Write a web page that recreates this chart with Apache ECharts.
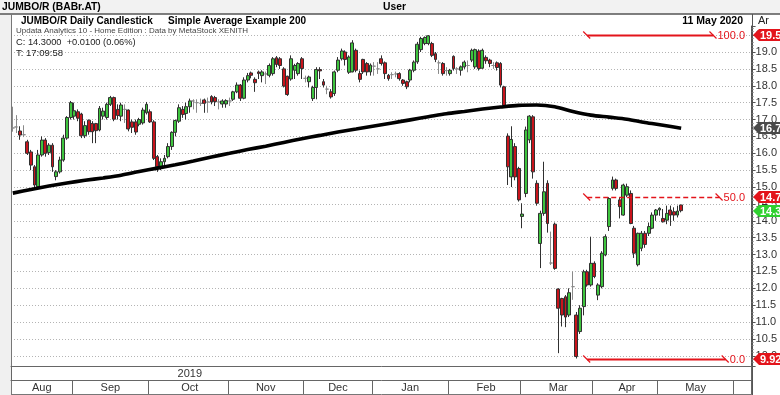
<!DOCTYPE html>
<html><head><meta charset="utf-8">
<script src="https://cdn.jsdelivr.net/npm/echarts@6/dist/echarts.min.js"></script>
<style>html,body{margin:0;padding:0;background:#fff}#c{width:780px;height:395px}</style>
</head><body><div id="c"></div>
<script>
// ---------- data ----------
const firstDay = [2019, 7, 7];     // 7 Aug 2019
const lastAxisDay = [2020, 5, 5];  // 5 Jun 2020 (axis runs past data)
const holidays = ['2019-08-15','2019-10-28','2019-12-24','2019-12-25','2019-12-26','2020-01-01','2020-01-06',
  '2020-03-02','2020-03-25','2020-04-10','2020-04-13','2020-04-17','2020-04-20'];
const monthNames = ['Jan','Feb','Mar','Apr','May','Jun','Jul','Aug','Sep','Oct','Nov','Dec'];
const yearLabels = ['2019'];

const opens = [16.75,16.78,16.66,16.55,16.34,16.04,15.6,15.01,15.95,16.39,
16.02,16.24,15.31,15.45,15.8,16.45,17.06,17.1,17.23,17.16,
16.52,16.98,16.88,16.88,16.69,17.1,17.06,17.45,17.65,17.3,
17.1,17.3,17.28,16.93,16.93,16.86,16.9,17.2,17.23,16.93,
15.9,15.6,15.75,15.9,16.2,16.62,16.95,17.3,17.18,17.38,
17.55,17.5,17.48,17.58,17.52,17.68,17.65,17.52,17.46,17.46,
17.55,17.6,17.82,18.02,17.63,18.17,18.38,18.19,18.41,18.3,
18.35,18.31,18.36,18.83,18.8,18.5,18.28,18.2,18.46,18.36,
18.8,18.22,18.12,17.62,17.95,18.48,18.12,17.9,17.82,17.77,
18.46,18.8,19.0,18.4,18.41,19.05,18.36,18.78,18.66,18.41,
18.58,18.5,18.8,18.68,18.31,18.33,18.35,18.36,18.17,18.12,
18.17,18.46,18.71,19.07,19.25,19.25,19.25,18.95,18.68,18.66,
18.45,18.36,18.87,18.5,18.46,18.56,18.6,18.76,18.56,19.03,
18.52,18.84,18.76,18.6,18.68,18.66,17.97,16.51,15.3,16.2,
15.55,14.13,14.81,16.4,17.08,15.11,13.33,14.22,15.11,12.75,
13.9,11.98,11.7,11.75,11.21,12.05,11.21,10.72,11.46,12.49,
12.1,12.74,11.8,12.05,12.99,13.83,14.96,15.21,14.62,14.17,
14.76,14.81,13.78,12.7,13.19,13.63,13.63,13.78,14.17,14.32,
14.07,14.02,14.32,14.27,14.17,14.47];
const highs = [17.38,17.13,16.8,16.83,16.4,16.1,15.65,16.1,16.5,16.45,
16.3,16.3,15.5,15.9,16.55,17.1,17.55,17.5,17.3,17.2,
16.95,17.0,16.95,16.9,17.4,17.35,17.5,17.7,17.68,17.45,
17.5,17.45,17.3,17.0,17.0,17.05,17.35,17.52,17.3,16.98,
15.95,15.85,15.95,16.3,16.65,17.0,17.45,17.4,17.5,17.62,
17.6,17.6,17.62,17.62,17.65,17.72,17.7,17.6,17.6,17.6,
17.65,17.85,18.1,18.05,18.25,18.38,18.42,18.25,18.45,18.46,
18.42,18.66,18.85,18.88,18.85,18.55,18.3,18.9,18.65,18.7,
18.85,18.3,18.3,18.0,18.55,18.55,18.2,18.0,17.9,18.45,
18.85,19.1,19.05,18.9,19.35,19.1,18.45,18.8,18.7,18.66,
18.7,18.7,18.9,18.72,18.35,18.4,18.42,18.4,18.2,18.15,
18.5,18.75,19.3,19.45,19.46,19.5,19.3,19.0,18.75,18.7,
18.55,18.5,18.9,18.55,18.6,18.75,18.75,19.1,19.1,19.08,
19.1,18.9,18.8,18.7,18.72,18.7,18.0,16.59,16.8,16.3,
15.6,14.52,16.79,17.13,17.13,15.2,14.3,15.75,15.2,13.68,
13.95,12.0,11.72,11.8,12.0,12.5,11.3,11.5,12.55,12.55,
13.53,12.8,12.15,13.1,13.6,14.7,15.31,15.25,14.7,15.1,
15.1,14.9,13.85,13.65,13.7,13.7,13.95,14.25,14.35,14.4,
14.35,14.45,14.45,14.4,14.45,14.47];
const lows = [16.64,16.6,16.4,16.48,15.95,15.5,14.93,14.95,15.9,15.9,
15.95,15.45,15.2,15.4,15.75,16.4,17.0,17.0,16.95,16.45,
16.45,16.55,16.3,16.3,16.65,17.0,17.0,17.4,16.95,17.0,
16.95,16.9,16.65,16.6,16.55,16.8,16.85,17.15,16.9,15.8,
15.45,15.5,15.6,15.85,16.1,16.5,16.9,17.05,17.0,17.2,
17.3,17.2,17.4,17.2,17.2,17.45,17.4,17.3,17.35,17.35,
17.4,17.55,17.78,17.55,17.6,18.1,18.22,17.82,18.2,18.1,
18.05,18.25,18.3,18.55,18.5,17.95,17.7,18.15,18.2,18.3,
18.2,18.1,17.95,17.55,17.6,18.2,17.95,17.75,17.62,17.7,
18.4,18.75,18.6,18.35,18.4,18.4,18.1,18.35,18.3,18.3,
18.3,18.35,18.6,18.2,18.15,18.2,18.25,18.15,18.0,17.9,
18.1,18.4,18.65,19.0,19.2,19.2,18.85,18.7,18.35,18.3,
18.3,18.3,18.45,18.35,18.3,18.5,18.4,18.7,18.5,18.45,
18.5,18.65,18.55,18.5,18.45,17.95,17.35,15.06,15.0,15.2,
14.57,13.78,14.7,16.3,15.25,14.45,12.6,14.15,13.65,12.69,
12.55,10.08,10.87,10.85,11.15,11.66,9.922,10.65,11.2,12.05,
12.05,12.3,11.65,12.0,12.95,13.7,14.9,14.9,14.07,14.15,
14.7,13.9,12.9,12.65,13.1,13.2,13.55,13.75,14.0,14.15,
13.95,13.9,13.85,14.0,14.1,14.25];
const closes = [16.75,16.78,16.54,16.55,16.0,15.65,15.06,15.95,16.39,16.0,
16.24,15.6,15.45,15.8,16.45,17.06,17.5,17.26,17.04,16.52,
16.82,16.64,16.64,16.67,17.33,17.25,17.45,17.65,17.01,17.12,
17.43,17.3,16.72,16.77,16.63,17.0,17.28,17.45,16.93,15.85,
15.6,15.75,15.85,16.2,16.62,16.97,17.35,17.15,17.38,17.55,
17.55,17.5,17.48,17.48,17.52,17.52,17.53,17.52,17.55,17.56,
17.55,17.82,18.02,17.63,18.17,18.3,18.31,18.09,18.36,18.41,
18.35,18.6,18.8,18.63,18.6,17.99,17.74,18.8,18.6,18.66,
18.51,18.22,18.26,17.95,18.48,18.44,18.02,17.9,17.67,18.41,
18.76,19.03,18.78,18.85,19.27,18.46,18.19,18.41,18.41,18.61,
18.58,18.5,18.66,18.36,18.21,18.33,18.35,18.21,18.07,17.97,
18.46,18.7,19.23,19.4,19.43,19.48,18.9,18.78,18.68,18.36,
18.45,18.46,18.51,18.5,18.56,18.7,18.6,19.05,19.07,18.51,
19.05,18.74,18.66,18.6,18.54,18.02,17.42,15.6,16.41,15.3,
14.62,14.2,16.69,17.1,15.45,14.52,14.22,14.86,13.92,12.75,
12.59,11.41,11.21,11.15,11.87,12.05,9.98,11.41,12.49,12.1,
12.74,12.35,12.1,13.04,13.53,14.66,15.21,14.96,14.42,15.06,
15.01,13.92,13.04,13.63,13.63,13.3,13.83,14.17,14.32,14.37,
13.97,14.22,14.17,14.17,14.29,14.30];
// 200-day simple average, read every 5th trading day
const smaStep = 5;
const smaEvery5 = [14.82,14.93,15.03,15.12,15.2,15.27,15.35,15.46,15.56,15.66,
15.77,15.89,16.0,16.11,16.21,16.32,16.43,16.53,16.63,16.72,
16.81,16.9,16.99,17.08,17.17,17.24,17.31,17.37,17.42,17.43,
17.38,17.24,17.13,17.07,17.01,16.91,16.83,16.74];
const fibLevels = [1, 0.5, 0];
const fibTexts = ['100.0', '50.0', '0.0'];
const headerTexts = {
  instrument: 'JUMBO/R (BABr.AT)', user: 'User',
  title: 'JUMBO/R Daily Candlestick', subtitle: 'Simple Average Example 200',
  source: 'Updata Analytics 10 - Home Edition : Data by MetaStock XENITH',
  closeLine: 'C: 14.3000  +0.0100 (0.06%)', timeLine: 'T: 17:09:58', date: '11 May 2020', panel: 'Ar'
};

// ---------- build ----------
const dates = [];
for (let d = new Date(Date.UTC(...firstDay)); d.getTime() <= Date.UTC(...lastAxisDay); d.setUTCDate(d.getUTCDate() + 1)) {
  const wd = d.getUTCDay();
  if (wd === 0 || wd === 6) continue;
  const s = d.toISOString().slice(0, 10);
  if (holidays.includes(s)) continue;
  dates.push(s);
}
const yearStarts = [], monthStarts = [], monthMid = {}, yearMid = {};
const groups = (keyLen) => {
  const g = [];
  dates.forEach((s, i) => {
    const k = s.slice(0, keyLen);
    if (!g.length || g[g.length - 1].k !== k) g.push({k, a: i, b: i}); else g[g.length - 1].b = i;
  });
  return g;
};
groups(4).forEach((g, j) => { if (j > 0) yearStarts.push(g.a); if (yearLabels.includes(g.k)) yearMid[Math.floor((g.a + g.b) / 2)] = g.k; });
groups(7).forEach((g, j) => { if (j > 0) monthStarts.push(g.a); if (g.b - g.a >= 8) monthMid[Math.round((g.a + g.b) / 2)] = monthNames[+g.k.slice(5, 7) - 1]; });

const ohlc = opens.map((o, i) => [o, closes[i], lows[i], highs[i]]);
const smaData = dates.map(() => null);
smaEvery5.forEach((v, j) => { smaData[j * smaStep] = v; });

const FONT = '"Liberation Sans", Arial, sans-serif';
const G = {left: 11, right: 28, top: 26, bottom: 29};
const W = 780, H = 395;

const chart = echarts.init(document.getElementById('c'), null, {renderer: 'canvas'});
const axisColor = '#666';
chart.setOption({
  animation: false,
  backgroundColor: '#fff',
  grid: {left: G.left, right: G.right, top: G.top, bottom: G.bottom, show: false},
  xAxis: [{
    type: 'category', data: dates, boundaryGap: true, position: 'bottom',
    axisLine: {show: true, lineStyle: {color: axisColor, width: 1}},
    axisTick: {show: true, length: 14, interval: (i) => yearStarts.includes(i), lineStyle: {color: axisColor}},
    axisLabel: {show: true, interval: (i) => yearMid[i] !== undefined, formatter: (v, i) => yearMid[i] || '',
      margin: 2, fontSize: 11, color: '#333', fontFamily: FONT},
    splitLine: {show: false}
  }, {
    type: 'category', data: dates, boundaryGap: true, position: 'bottom', offset: 14,
    axisLine: {show: true, lineStyle: {color: axisColor, width: 1}},
    axisTick: {show: true, length: 14, interval: (i) => monthStarts.includes(i), lineStyle: {color: axisColor}},
    axisLabel: {show: true, interval: (i) => monthMid[i] !== undefined, formatter: (v, i) => monthMid[i] || '',
      margin: 2, fontSize: 11, color: '#333', fontFamily: FONT},
    splitLine: {show: false}
  }],
  yAxis: {
    type: 'value', position: 'right', min: 9.7, max: 19.77, splitNumber: 20, minInterval: 0.5, maxInterval: 0.5,
    axisLine: {show: true, lineStyle: {color: '#555'}},
    axisTick: {show: true, inside: false, length: 4, lineStyle: {color: '#555'}},
    minorTick: {show: true, splitNumber: 5, length: 2, lineStyle: {color: '#777'}},
    axisLabel: {formatter: (v) => v.toFixed(1), showMinLabel: false, showMaxLabel: false, fontSize: 11, color: '#333', margin: 4, fontFamily: FONT},
    splitLine: {show: true, showMinLine: false, showMaxLine: false, lineStyle: {color: '#b4b4b4', type: [1, 2], width: 1}}
  },
  series: [{
    type: 'candlestick', data: ohlc, barWidth: 3.4,
    itemStyle: {color: '#3ec43e', color0: '#c8141c', borderColor: '#303030', borderColor0: '#303030', borderColorDoji: '#8a8a8a', borderWidth: 1}
  }, {
    type: 'line', data: smaData, connectNulls: true, smooth: 0.3, symbol: 'none', z: 3,
    lineStyle: {color: '#000', width: 3.6}
  }]
});

// ---------- overlay (positions derived from data via the axes) ----------
const gx = (i) => chart.convertToPixel({xAxisIndex: 0}, i);
const gy = (v) => chart.convertToPixel({yAxisIndex: 0}, v);
const plotRight = W - G.right, plotBottom = H - G.bottom;
const ctx = document.createElement('canvas').getContext('2d');
const fibRed = '#e3141b';
const hi = Math.max(...highs), lo = Math.min(...lows);
const loIdx = lows.indexOf(lo);
const fibStartX = gx(loIdx + 3);
const els = [];
// frame backgrounds
els.push({type: 'rect', shape: {x: 0, y: 0, width: W, height: 14}, style: {fill: '#f2f2f2'}, z: 0});
els.push({type: 'rect', shape: {x: 0, y: 14, width: G.left, height: H - 14}, style: {fill: '#f0f0f0'}, z: 0});
els.push({type: 'line', shape: {x1: 0, y1: 14, x2: W, y2: 14}, style: {stroke: '#555', lineWidth: 1.5}});
els.push({type: 'line', shape: {x1: G.left + 0.5, y1: 14, x2: G.left + 0.5, y2: H}, style: {stroke: '#777', lineWidth: 1}});
els.push({type: 'line', shape: {x1: plotRight + 0.5, y1: 14, x2: plotRight + 0.5, y2: H}, style: {stroke: '#555', lineWidth: 1}});
els.push({type: 'line', shape: {x1: G.left, y1: plotBottom + 28.5, x2: plotRight, y2: plotBottom + 28.5}, style: {stroke: '#777', lineWidth: 1}});
// texts
const txt = (t, x, y, font, fill, align) => ({type: 'text', x, y, z: 20,
  style: {text: t, font, fill: fill || '#000', align: align || 'left', verticalAlign: 'middle'}});
els.push(txt(headerTexts.instrument, 2, 7, 'bold 10.3px ' + FONT));
els.push(txt(headerTexts.user, 383, 7, 'bold 10.3px ' + FONT));
els.push(txt(headerTexts.title, 21, 21, 'bold 10px ' + FONT));
els.push(txt(headerTexts.subtitle, 168, 21, 'bold 10px ' + FONT));
els.push(txt(headerTexts.source, 16, 31, '8px ' + FONT, '#444'));
els.push(txt(headerTexts.closeLine, 16, 42, '9.3px ' + FONT, '#222'));
els.push(txt(headerTexts.timeLine, 16, 53, '9.5px ' + FONT, '#222'));
els.push(txt(headerTexts.date, 743, 21, 'bold 10.5px ' + FONT, '#000', 'right'));
els.push(txt(headerTexts.panel, 758, 21, '11px ' + FONT, '#222'));
// fibonacci retracement
const labelRight = plotRight - 7;
fibLevels.forEach((f, k) => {
  const y = Math.round(gy(lo + (hi - lo) * f)) + 0.5;
  const font = '11px ' + FONT;
  ctx.font = '11px Liberation Sans, Arial';
  const tw = ctx.measureText(fibTexts[k]).width;
  const endX = labelRight - tw - 4;
  const dashed = f === 0.5;
  els.push({type: 'line', z: 15, shape: {x1: fibStartX, y1: y, x2: endX, y2: y},
    style: {stroke: fibRed, lineWidth: dashed ? 1.5 : 2, lineDash: dashed ? [5, 3] : null}});
  els.push({type: 'line', z: 15, shape: {x1: fibStartX - 4, y1: y - 4, x2: fibStartX + 3, y2: y + 3}, style: {stroke: fibRed, lineWidth: 1.2}});
  els.push({type: 'line', z: 15, shape: {x1: endX - 4, y1: y - 4, x2: endX + 3, y2: y + 3}, style: {stroke: fibRed, lineWidth: 1.2}});
  els.push({type: 'text', z: 15, x: labelRight, y: y, style: {text: fibTexts[k], font, fill: fibRed, align: 'right', verticalAlign: 'middle'}});
});
// right-axis value tags
const tag = (v, color, text) => {
  const y = Math.round(gy(v));
  return {type: 'group', z: 30, children: [
    {type: 'polygon', shape: {points: [[plotRight + 1, y], [plotRight + 7, y - 6], [W + 2, y - 6], [W + 2, y + 6], [plotRight + 7, y + 6]]},
      style: {fill: color}, z: 30},
    {type: 'text', x: plotRight + 8, y: y + 0.5, z: 31, style: {text, font: 'bold 11px ' + FONT, fill: '#fff', verticalAlign: 'middle'}}
  ]};
};
const smaLast = smaEvery5[smaEvery5.length - 1];
const lastClose = closes[closes.length - 1];
els.push(tag(hi, '#e3141b', hi.toFixed(2)));
els.push(tag(smaLast, '#4a4a4a', smaLast.toFixed(2)));
els.push(tag(lo + (hi - lo) * 0.5, '#e3141b', (lo + (hi - lo) * 0.5).toFixed(2)));
els.push(tag(lastClose, '#2fd02f', lastClose.toFixed(2)));
els.push(tag(lo, '#e3141b', lo.toFixed(3)));
chart.setOption({graphic: {elements: els}});
</script></body></html>
